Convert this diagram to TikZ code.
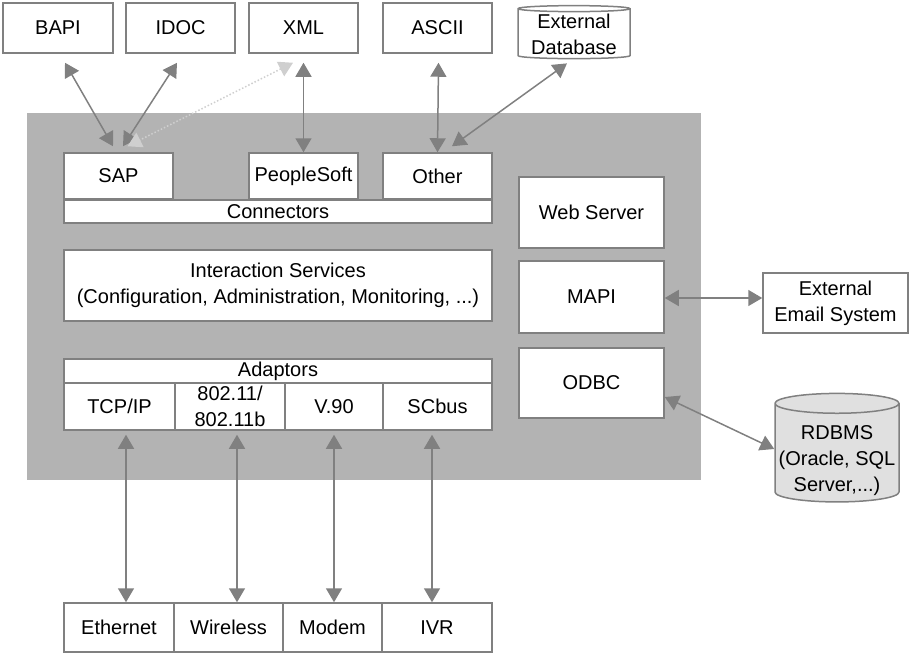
\documentclass[tikz,border=0pt]{standalone}
\usepackage{fontspec}
\setmainfont{Liberation Sans}
\usetikzlibrary{arrows.meta,shapes.geometric}
\definecolor{edgegray}{HTML}{808080}
\definecolor{panelgray}{HTML}{B3B3B3}
\definecolor{dbgray}{HTML}{E0E0E0}
\definecolor{paleline}{HTML}{CFCFCF}

\begin{document}
\begin{tikzpicture}[x=1pt, y=-1pt,
	blk/.style={draw=edgegray, line width=1.5pt, fill=white, align=center, inner sep=0pt,
		font=\fontsize{20}{26}\selectfont},
	dbase/.style={blk, cylinder, shape border rotate=90},
	link/.style={color=edgegray, line width=1.5pt,
		{Triangle[length=14pt,width=16pt]}-{Triangle[length=14pt,width=16pt]}},
	]
	\useasboundingbox (0,0) rectangle (910,654);
	% platform
	\fill[panelgray] (27,113) rectangle (701,480);

	% sources at the top
	\node[blk, minimum width=110, minimum height=50] (bapi) at (58,28) {BAPI};
	\node[blk, minimum width=109, minimum height=50] (idoc) at (180.5,28) {IDOC};
	\node[blk, minimum width=109, minimum height=50] (xml) at (303.5,28) {XML};
	\node[blk, minimum width=109, minimum height=50] (ascii) at (437.5,28) {ASCII};
	\node[dbase, fill=white, minimum width=112, minimum height=53, aspect=0.07] (extdb) at (574,34) {External\\Database};

	% connectors
	\node[blk, minimum width=109, minimum height=46] (sap) at (118.5,176) {SAP};
	\node[blk, minimum width=109, minimum height=46] (psoft) at (303.5,176) {PeopleSoft};
	\node[blk, minimum width=109, minimum height=46] (other) at (437.5,176) {Other};
	\node[blk, minimum width=428, minimum height=23] (conn) at (278,211.5) {Connectors};
	\node[blk, minimum width=428, minimum height=71] (inter) at (278,285.5)
		{Interaction Services\\(Configuration, Administration, Monitoring, ...)};

	% adaptors
	\node[blk, minimum width=428, minimum height=24] (adapt) at (278,371) {Adaptors};
	\node[blk, minimum width=111, minimum height=47] (tcp) at (119.5,406.5) {TCP/IP};
	\node[blk, minimum width=110, minimum height=47] (wlan) at (230,406.5) {802.11/\\802.11b};
	\node[blk, minimum width=98, minimum height=47] (v90) at (334,406.5) {V.90};
	\node[blk, minimum width=109, minimum height=47] (scbus) at (437.5,406.5) {SCbus};

	% right column
	\node[blk, minimum width=145, minimum height=71] (web) at (591.5,212.5) {Web Server};
	\node[blk, minimum width=145, minimum height=72] (mapi) at (591.5,297) {MAPI};
	\node[blk, minimum width=145, minimum height=70] (odbc) at (591.5,383) {ODBC};
	\node[blk, minimum width=145, minimum height=60] (email) at (835.5,303) {External\\Email System};
	\node[dbase, fill=dbgray, minimum width=124, minimum height=100, aspect=0.17] (rdbms) at (837,453)
		{\raisebox{-7pt}[\height][\depth]{\begin{tabular}{@{}c@{}}RDBMS\\(Oracle, SQL\\Server,...)\end{tabular}}};

	% networks at the bottom
	\node[blk, minimum width=110, minimum height=49] (eth) at (119,627.5) {Ethernet};
	\node[blk, minimum width=109, minimum height=49] (wless) at (228.5,627.5) {Wireless};
	\node[blk, minimum width=99, minimum height=49] (modem) at (332.5,627.5) {Modem};
	\node[blk, minimum width=110, minimum height=49] (ivr) at (437,627.5) {IVR};

	% links
	\path[link] ([xshift=7,yshift=-9]bapi.south) edge ([xshift=-5.5,yshift=6]sap.north);
	\path[link] ([xshift=-3.5,yshift=-9]idoc.south) edge ([xshift=4.5,yshift=6]sap.north);
	\path[link, color=paleline, dotted] ([xshift=-10.5,yshift=-9]xml.south) edge ([xshift=9,yshift=6]sap.north);
	\path[link] ([yshift=-9]xml.south) edge (psoft.north);
	\path[link] ([xshift=1,yshift=-9]ascii.south) edge (other.north);
	\path[link] ([xshift=-7,yshift=-4]extdb.south) edge ([xshift=14.5,yshift=6]other.north);
	\path[link] ([yshift=-1]mapi.east) edge ([yshift=-1]mapi.east -| email.west);
	\path[link] ([yshift=-14]odbc.east) edge ([yshift=4]rdbms.west);
	\path[link] ([xshift=6.5,yshift=-4]tcp.south) edge ([xshift=7]eth.north);
	\path[link] ([xshift=7,yshift=-4]wlan.south) edge ([xshift=8.5]wless.north);
	\path[link] ([yshift=-4]v90.south) edge ([xshift=1.5]modem.north);
	\path[link] ([xshift=-5.5,yshift=-4]scbus.south) edge ([xshift=-5]ivr.north);
\end{tikzpicture}
\end{document}
